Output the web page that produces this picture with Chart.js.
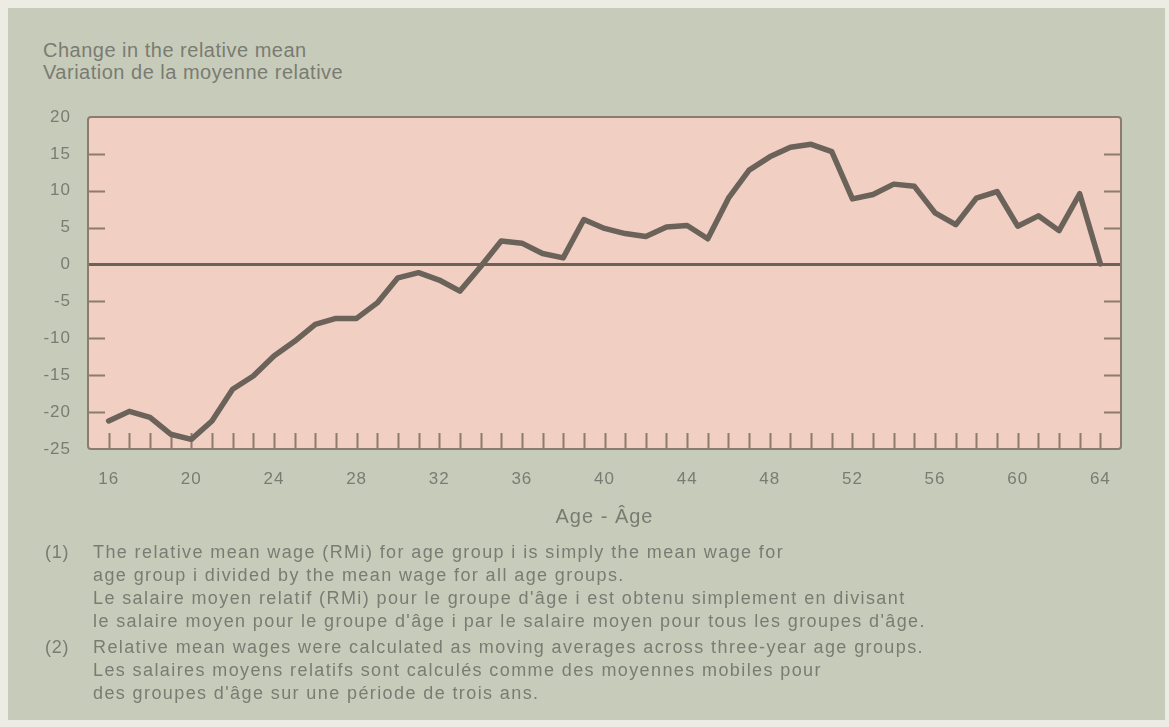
<!DOCTYPE html>
<html>
<head>
<meta charset="utf-8">
<script src="https://cdn.jsdelivr.net/npm/chart.js@4"></script>
<style>
  html, body { margin: 0; padding: 0; }
  body { width: 1169px; height: 727px; background: #ecebe4; position: relative; overflow: hidden;
         font-family: "Liberation Sans", Arial, sans-serif; color: #7a7b72; }
  #panel { position: absolute; left: 8px; top: 8px; width: 1157px; height: 712px; background: #c7ccba; }
  #chart { position: absolute; left: 0; top: 0; }
  .ttl { position: absolute; left: 43px; font-size: 20px; letter-spacing: 0.5px; line-height: 22px; }
  .note { position: absolute; font-size: 18px; letter-spacing: 1.4px; line-height: 23px; white-space: nowrap; }
</style>
</head>
<body>
<div id="panel"></div>
<div class="ttl" style="top:39px">Change in the relative mean<br>Variation de la moyenne relative</div>
<canvas id="chart" width="1169" height="727"></canvas>
<div class="note" style="left:45px; top:541px; letter-spacing:0.8px">(1)</div>
<div class="note" style="left:93px; top:541px">The relative mean wage (RMi) for age group i is simply the mean wage for<br>age group i divided by the mean wage for all age groups.<br>Le salaire moyen relatif (RMi) pour le groupe d'âge i est obtenu simplement en divisant<br>le salaire moyen pour le groupe d'âge i par le salaire moyen pour tous les groupes d'âge.</div>
<div class="note" style="left:45px; top:636px; letter-spacing:0.8px">(2)</div>
<div class="note" style="left:93px; top:636px">Relative mean wages were calculated as moving averages across three-year age groups.<br>Les salaires moyens relatifs sont calculés comme des moyennes mobiles pour<br>des groupes d'âge sur une période de trois ans.</div>
<script>
// age groups and change in relative mean wage
const ages = [16, 17, 18, 19, 20, 21, 22, 23, 24, 25, 26, 27, 28, 29, 30, 31, 32,
  33, 34, 35, 36, 37, 38, 39, 40, 41, 42, 43, 44, 45, 46, 47, 48, 49, 50, 51, 52,
  53, 54, 55, 56, 57, 58, 59, 60, 61, 62, 63, 64];
const relMeanChange = [-21.2, -19.9, -20.7, -23.0, -23.7, -21.2, -16.9, -15.1, -12.4,
  -10.4, -8.1, -7.3, -7.3, -5.2, -1.8, -1.1, -2.1, -3.6, -0.3, 3.2, 2.9, 1.5, 0.9,
  6.1, 4.9, 4.2, 3.8, 5.1, 5.3, 3.5, 9.0, 12.8, 14.6, 15.9, 16.3, 15.3, 8.9, 9.5,
  10.9, 10.6, 7.0, 5.4, 9.0, 9.9, 5.2, 6.6, 4.6, 9.6, 0.1];
const ageTicks = [16, 20, 24, 28, 32, 36, 40, 44, 48, 52, 56, 60, 64];
const valueTicks = [20, 15, 10, 5, 0, -5, -10, -15, -20, -25];

const inkColor = "#6b625a";
const frameColor = "#8b7c6e";
const textColor = "#7a7b72";

// pink plot area, frame and the little inner tick marks
const framePlugin = {
  id: "frame",
  beforeDraw(chart) {
    chart.ctx.letterSpacing = "1px";
    const a = chart.chartArea;
    const ctx = chart.ctx;
    ctx.save();
    ctx.fillStyle = "#f1cfc3";
    ctx.fillRect(a.left, a.top, a.right - a.left, a.bottom - a.top);
    ctx.restore();
  },
  beforeDatasetsDraw(chart) {
    const a = chart.chartArea;
    const ctx = chart.ctx;
    const x = chart.scales.x, y = chart.scales.y;
    ctx.save();
    ctx.strokeStyle = frameColor;
    ctx.lineWidth = 2;
    ctx.beginPath();
    ages.forEach(v => {
      const px = Math.round(x.getPixelForValue(v)) + 0.5;
      ctx.moveTo(px, a.bottom);
      ctx.lineTo(px, a.bottom - 16);
    });
    valueTicks.forEach(v => {
      if (v === 0 || v === 20 || v === -25) return;
      const py = Math.round(y.getPixelForValue(v)) + 0.5;
      ctx.moveTo(a.left, py);
      ctx.lineTo(a.left + 17, py);
      ctx.moveTo(a.right, py);
      ctx.lineTo(a.right - 17, py);
    });
    ctx.stroke();
    ctx.beginPath();
    ctx.roundRect(a.left, a.top, a.right - a.left, a.bottom - a.top, 3);
    ctx.stroke();
    ctx.restore();
  }
};

new Chart(document.getElementById("chart"), {
  type: "line",
  data: {
    datasets: [{
      data: ages.map((a, i) => ({ x: a, y: relMeanChange[i] })),
      borderColor: inkColor,
      borderWidth: 5.5,
      pointRadius: 0,
      tension: 0,
      borderJoinStyle: "round",
      borderCapStyle: "round"
    }]
  },
  options: {
    responsive: false,
    animation: false,
    layout: { padding: { top: 117, right: 48, left: 0, bottom: 178 } },
    plugins: { legend: { display: false }, tooltip: { enabled: false } },
    scales: {
      x: {
        type: "linear",
        min: 15,
        max: 65,
        afterBuildTicks: s => { s.ticks = ageTicks.map(v => ({ value: v })); },
        afterFit: s => { s.height = 100; },
        grid: { display: false, drawTicks: false },
        border: { display: false },
        ticks: { padding: 20, color: textColor, font: { family: "Liberation Sans", size: 17 } },
        title: {
          display: true,
          text: "Age - Âge",
          color: textColor,
          font: { family: "Liberation Sans", size: 20 },
          padding: { top: 0, bottom: 20 }
        }
      },
      y: {
        min: -25,
        max: 20,
        afterBuildTicks: s => { s.ticks = valueTicks.map(v => ({ value: v })); },
        afterFit: s => { s.width = 88; },
        grid: {
          drawTicks: false,
          color: c => (c.tick && c.tick.value === 0 ? inkColor : "rgba(0,0,0,0)"),
          lineWidth: 3
        },
        border: { display: false },
        ticks: { padding: 17, color: textColor, font: { family: "Liberation Sans", size: 17 } }
      }
    }
  },
  plugins: [framePlugin]
});
</script>
</body>
</html>
